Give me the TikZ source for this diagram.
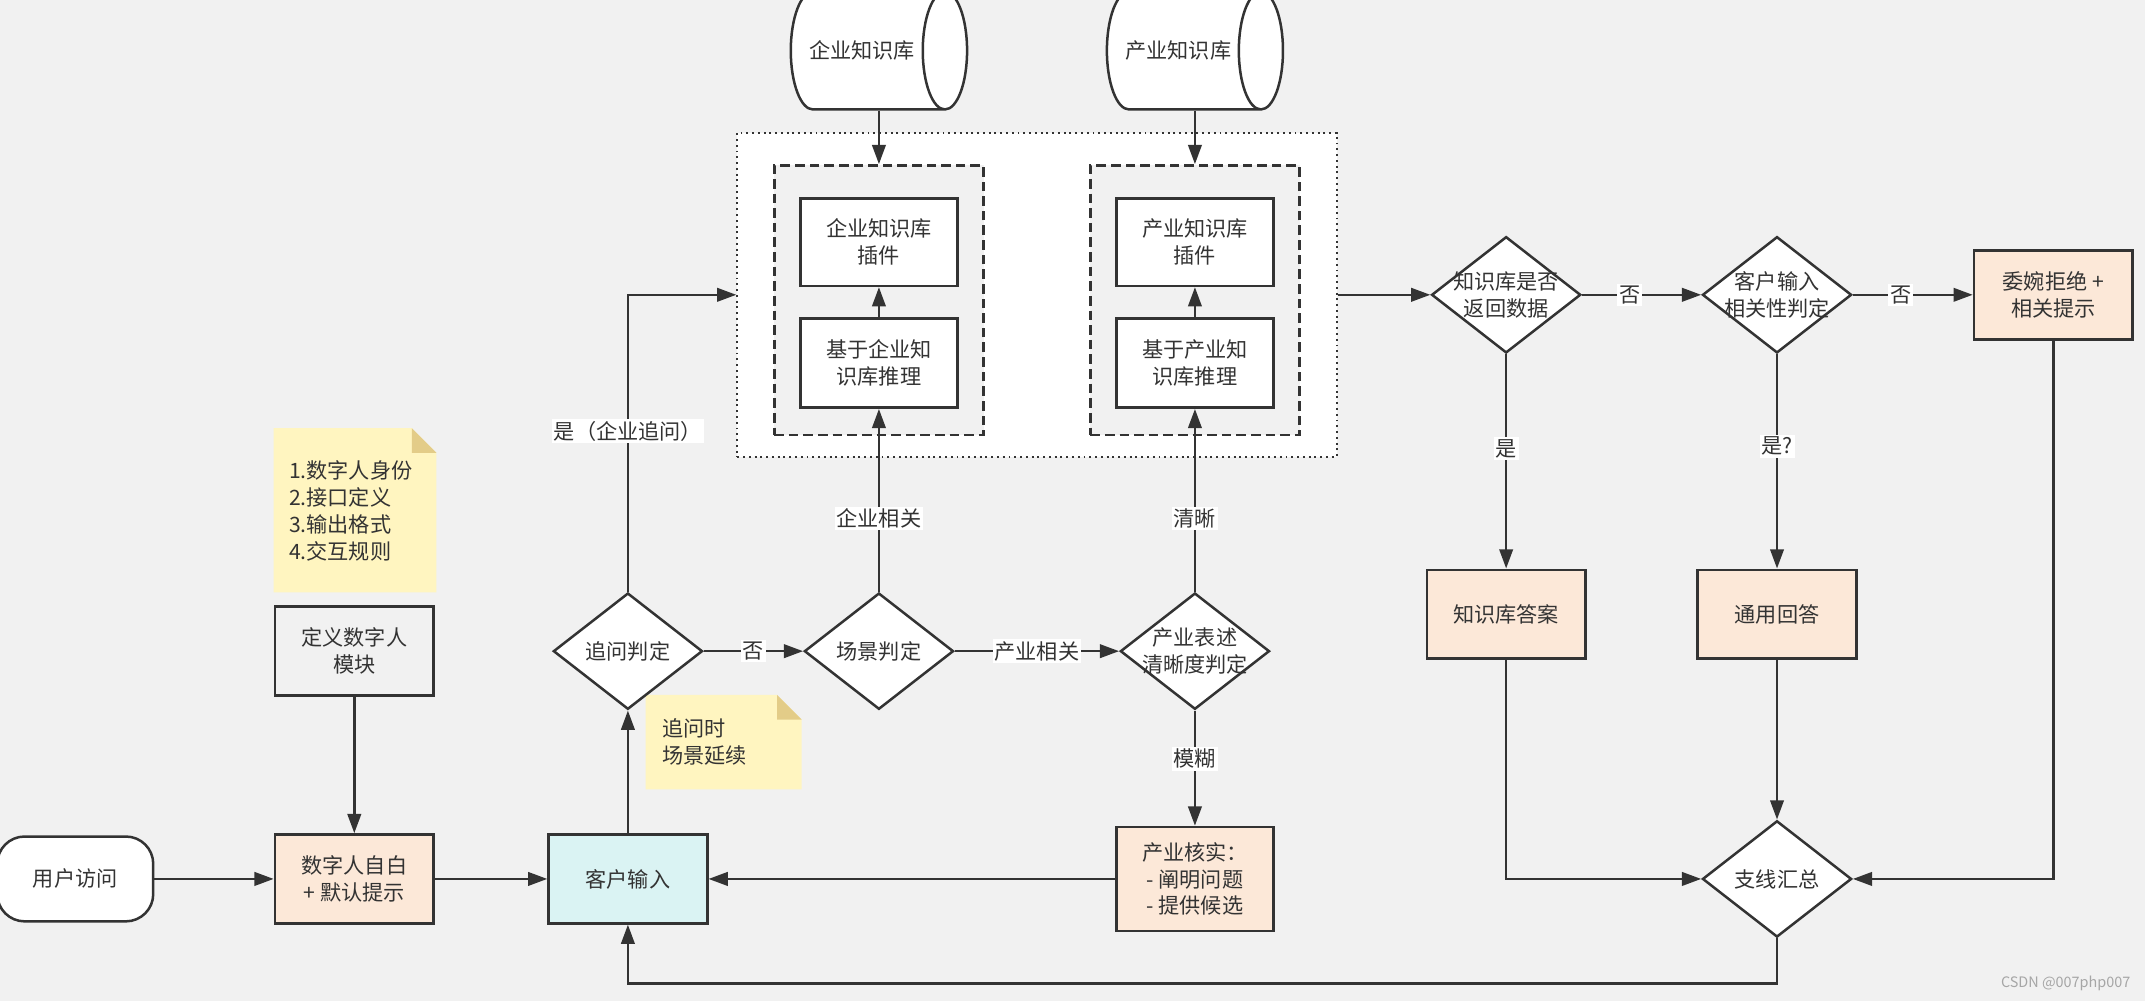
\documentclass[tikz,border=0pt]{standalone}
\usepackage{fontspec}
\setmainfont{Noto Sans CJK SC}
\usetikzlibrary{shapes.geometric,arrows.meta}

\begin{document}
\begin{tikzpicture}[x=0.025cm, y=-0.025cm,
    font=\fontsize{11pt}{14pt}\selectfont,
    every node/.style={text=textColour},
    link/.style={draw=lineColour, line width=1.3pt},
    arrow/.style={link, -{Triangle[length=10pt, width=7pt]}},
    box/.style={rectangle, draw=lineColour, line width=1.3pt, align=center,
        minimum width=2.9cm, minimum height=1.625cm, inner sep=2pt},
    terminal/.style={box, fill=white, rounded corners=0.5cm,
        minimum width=2.85cm, minimum height=1.55cm},
    decision/.style={diamond, draw=lineColour, line width=1.3pt, fill=white, align=center,
        minimum width=2.725cm, minimum height=2.125cm, inner xsep=-0.5cm, inner ysep=-0.15cm},
    store/.style={cylinder, draw=lineColour, line width=1.3pt, fill=white, aspect=1.36,
        minimum width=2.15cm, minimum height=2.35cm},
    group/.style={rectangle, draw=lineColour, line width=1.4pt, dash pattern=on 5pt off 2.6pt,
        fill=bgColour, minimum width=3.825cm, minimum height=4.925cm},
    tag/.style={fill=white, inner sep=1pt},
    memo/.style={anchor=west, align=left, inner sep=0pt}]

    \definecolor{bgColour}{HTML}{F1F1F1}
    \definecolor{lineColour}{HTML}{333333}
    \definecolor{textColour}{HTML}{333333}
    \definecolor{peachColour}{HTML}{FCE8D8}
    \definecolor{cyanColour}{HTML}{DAF3F3}
    \definecolor{noteColour}{HTML}{FFF5C0}
    \definecolor{foldColour}{HTML}{E3CC88}
    \definecolor{markColour}{HTML}{A6A6A6}

    % Canvas
    \useasboundingbox (0,0) rectangle (1568,732);
    \fill[bgColour] (0,0) rectangle (1568,732);

    % Knowledge base plugins
    \node[rectangle, draw=lineColour, line width=1pt, dash pattern=on 1pt off 2pt, fill=white,
        minimum width=10.95cm, minimum height=5.925cm] (plugins) at (758,215.5) {};
    \node[group] (dashE) at (642.5,219.5) {};
    \node[group] (dashI) at (873.5,219.5) {};
    \node[box, fill=white, minimum width=2.875cm, minimum height=1.6cm] (pluginE) at (642.5,177) {企业知识库\\插件};
    \node[box, fill=white, minimum width=2.875cm] (reasonE) at (642.5,265.5) {基于企业知\\识库推理};
    \node[box, fill=white, minimum width=2.875cm, minimum height=1.6cm] (pluginI) at (873.5,177) {产业知识库\\插件};
    \node[box, fill=white, minimum width=2.875cm] (reasonI) at (873.5,265.5) {基于产业知\\识库推理};
    \node[store, anchor=shape center] (dbE) at (642.5,37) {企业知识库};
    \node[store, anchor=shape center] (dbI) at (873.5,37) {产业知识库};

    \draw[arrow] (dashE.north |- dbE.south) -- (dashE.north);
    \draw[arrow] (dashI.north |- dbI.south) -- (dashI.north);
    \draw[arrow] (reasonE) -- (pluginE);
    \draw[arrow] (reasonI) -- (pluginI);

    % Sticky notes
    \fill[noteColour] (200,313) -- (301,313) -- (319,331) -- (319,433) -- (200,433) -- cycle;
    \fill[foldColour] (301,313) -- (319,331) -- (301,331) -- cycle;
    \node[memo] (rules) at (211,373.5) {1.数字人身份\\2.接口定义\\3.输出格式\\4.交互规则};
    \fill[noteColour] (472,508) -- (568,508) -- (586,526) -- (586,577) -- (472,577) -- cycle;
    \fill[foldColour] (568,508) -- (586,526) -- (568,526) -- cycle;
    \node[memo] (carry) at (484,542.5) {追问时\\场景延续};

    % Entry and input
    \node[terminal] (visit) at (55,642.5) {用户访问};
    \node[box, fill=bgColour] (define) at (259,476) {定义数字人\\模块};
    \node[box, fill=peachColour] (intro) at (259,642.5) {数字人自白\\+ 默认提示};
    \node[box, fill=cyanColour] (cin) at (459,642.5) {客户输入};

    % Judgements
    \node[decision] (q1) at (459,476) {追问判定};
    \node[decision] (s1) at (642.5,476) {场景判定};
    \node[decision] (c1) at (873.5,476) {产业表述\\清晰度判定};
    \node[box, fill=peachColour, minimum width=2.875cm, minimum height=1.9cm] (check) at (873.5,642.5)
        {产业核实：\\- 阐明问题\\- 提供候选};

    \node[decision] (kbq) at (1101,215.5) {知识库是否\\返回数据};
    \node[decision] (rel) at (1299,215.5) {客户输入\\相关性判定};
    \node[box, fill=peachColour] (refuse) at (1501,215.5) {委婉拒绝 +\\相关提示};
    \node[box, fill=peachColour] (ans) at (1101,449) {知识库答案};
    \node[box, fill=peachColour] (gen) at (1299,449) {通用回答};
    \node[decision] (merge) at (1299,642.5) {支线汇总};
    \coordinate (back) at (1299,719);

    % Left flow
    \draw[arrow] (visit) -- (intro);
    \draw[arrow] (define) -- (intro);
    \draw[arrow] (intro) -- (cin);
    \draw[arrow] (cin) -- (q1);
    \draw[arrow] (q1.north) |- node[tag, pos=0.27] {是（企业追问）} (plugins.west);
    \draw[arrow] (q1) -- node[tag] {否} (s1);
    \draw[arrow] (s1) -- node[tag, pos=0.4] {企业相关} (reasonE);
    \draw[arrow] (s1) -- node[tag] {产业相关} (c1);
    \draw[arrow] (c1) -- node[tag, pos=0.4] {清晰} (reasonI);
    \draw[arrow] (c1) -- node[tag, pos=0.42] {模糊} (check);
    \draw[arrow] (check) -- (cin);

    % Right flow
    \draw[arrow] (plugins) -- (kbq);
    \draw[arrow] (kbq) -- node[tag, pos=0.4] {否} (rel);
    \draw[arrow] (rel) -- node[tag, pos=0.4] {否} (refuse);
    \draw[arrow] (kbq) -- node[tag, pos=0.44] {是} (ans);
    \draw[arrow] (rel) -- node[tag, pos=0.43] {是?} (gen);
    \draw[arrow] (ans) |- (merge);
    \draw[arrow] (gen) -- (merge);
    \draw[arrow] (refuse) |- (merge);
    \draw[arrow] (merge) -- (back) -| (cin);

    \node[text=markColour, font=\fontsize{7.5pt}{9pt}\selectfont] (mark) at (1510,719) {CSDN @007php007};

\end{tikzpicture}
\end{document}
